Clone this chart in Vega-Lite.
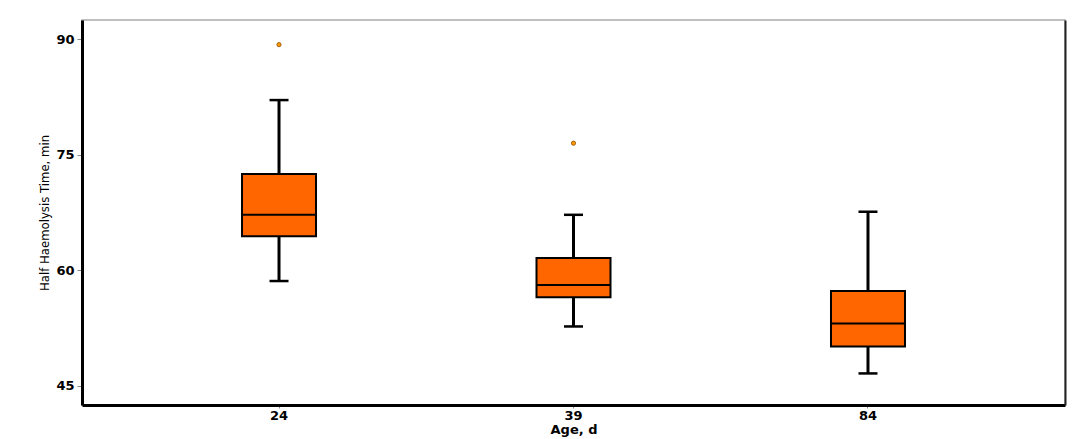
{
  "$schema": "https://vega.github.io/schema/vega-lite/v6.json",
  "autosize": "none",
  "width": 983,
  "height": 385,
  "padding": {"left": 82, "top": 20, "right": 11, "bottom": 34},
  "background": "white",
  "config": {
    "view": {"stroke": "#aaaaaa", "strokeWidth": 1.5},
    "axis": {"grid": false}
  },
  "datasets": {
    "stats": [
      {"age": "24", "lower": 58.6, "q1": 64.4, "median": 67.2, "q3": 72.5, "upper": 82.1},
      {"age": "39", "lower": 52.7, "q1": 56.5, "median": 58.1, "q3": 61.6, "upper": 67.2},
      {"age": "84", "lower": 46.6, "q1": 50.1, "median": 53.1, "q3": 57.3, "upper": 67.6}
    ],
    "outliers": [
      {"age": "24", "value": 89.3},
      {"age": "39", "value": 76.5}
    ]
  },
  "layer": [
    {
      "layer": [
        {
          "data": {"name": "stats"},
          "mark": {"type": "rule", "stroke": "black", "strokeWidth": 3},
          "encoding": {
            "x": {
              "field": "age", "type": "nominal",
              "scale": {"type": "band", "paddingInner": 0, "paddingOuter": 0.169},
              "axis": {
                "title": "Age, d", "titleFont": "DejaVu Sans", "titleFontWeight": "bold", "titleFontSize": 13,
                "titleColor": "black", "titlePadding": 1,
                "labelAngle": 0, "labelFont": "DejaVu Sans", "labelFontWeight": "bold", "labelFontSize": 13,
                "labelColor": "black", "labelPadding": 1,
                "domainColor": "black", "domainWidth": 3, "tickColor": "#888", "tickSize": 3
              }
            },
            "y": {
              "field": "lower", "type": "quantitative",
              "scale": {"domain": [42.5, 92.5], "nice": false, "zero": false},
              "axis": {
                "title": "Half Haemolysis Time, min", "titleFont": "Liberation Sans Narrow, DejaVu Sans Condensed, Arial Narrow, sans-serif", "titleFontSize": 13,
                "titleFontWeight": "normal", "titleColor": "black", "titlePadding": 4,
                "values": [45, 60, 75, 90], "labelFont": "DejaVu Sans", "labelFontWeight": "bold", "labelFontSize": 13,
                "labelColor": "black", "labelPadding": 3,
                "domainColor": "black", "domainWidth": 3, "tickColor": "#888", "tickSize": 5
              }
            },
            "y2": {"field": "upper"}
          }
        },
        {
          "data": {"name": "stats"},
          "mark": {"type": "bar", "size": 74, "fill": "#FF6600", "stroke": "black", "strokeWidth": 2},
          "encoding": {
            "x": {"field": "age", "type": "nominal"},
            "y": {"field": "q1", "type": "quantitative"},
            "y2": {"field": "q3"}
          }
        },
        {
          "data": {"name": "stats"},
          "mark": {"type": "tick", "size": 74, "thickness": 2, "color": "black", "opacity": 1},
          "encoding": {
            "x": {"field": "age", "type": "nominal"},
            "y": {"field": "median", "type": "quantitative"}
          }
        },
        {
          "data": {"name": "stats"},
          "mark": {"type": "tick", "size": 19, "thickness": 2.5, "color": "black", "opacity": 1},
          "encoding": {
            "x": {"field": "age", "type": "nominal"},
            "y": {"field": "upper", "type": "quantitative"}
          }
        },
        {
          "data": {"name": "stats"},
          "mark": {"type": "tick", "size": 19, "thickness": 2.5, "color": "black", "opacity": 1},
          "encoding": {
            "x": {"field": "age", "type": "nominal"},
            "y": {"field": "lower", "type": "quantitative"}
          }
        }
      ]
    },
    {
      "data": {"name": "outliers"},
      "mark": {"type": "point", "shape": "circle", "size": 18, "filled": true, "fill": "#FF9900", "stroke": "#8a4a00", "strokeWidth": 0.8, "opacity": 1},
      "encoding": {
        "x": {"field": "age", "type": "nominal"},
        "y": {
          "field": "value", "type": "quantitative",
          "axis": {"orient": "right", "labels": false, "ticks": false, "title": null, "domainColor": "#222", "domainWidth": 2}
        }
      }
    }
  ],
  "resolve": {"axis": {"y": "independent"}}
}
